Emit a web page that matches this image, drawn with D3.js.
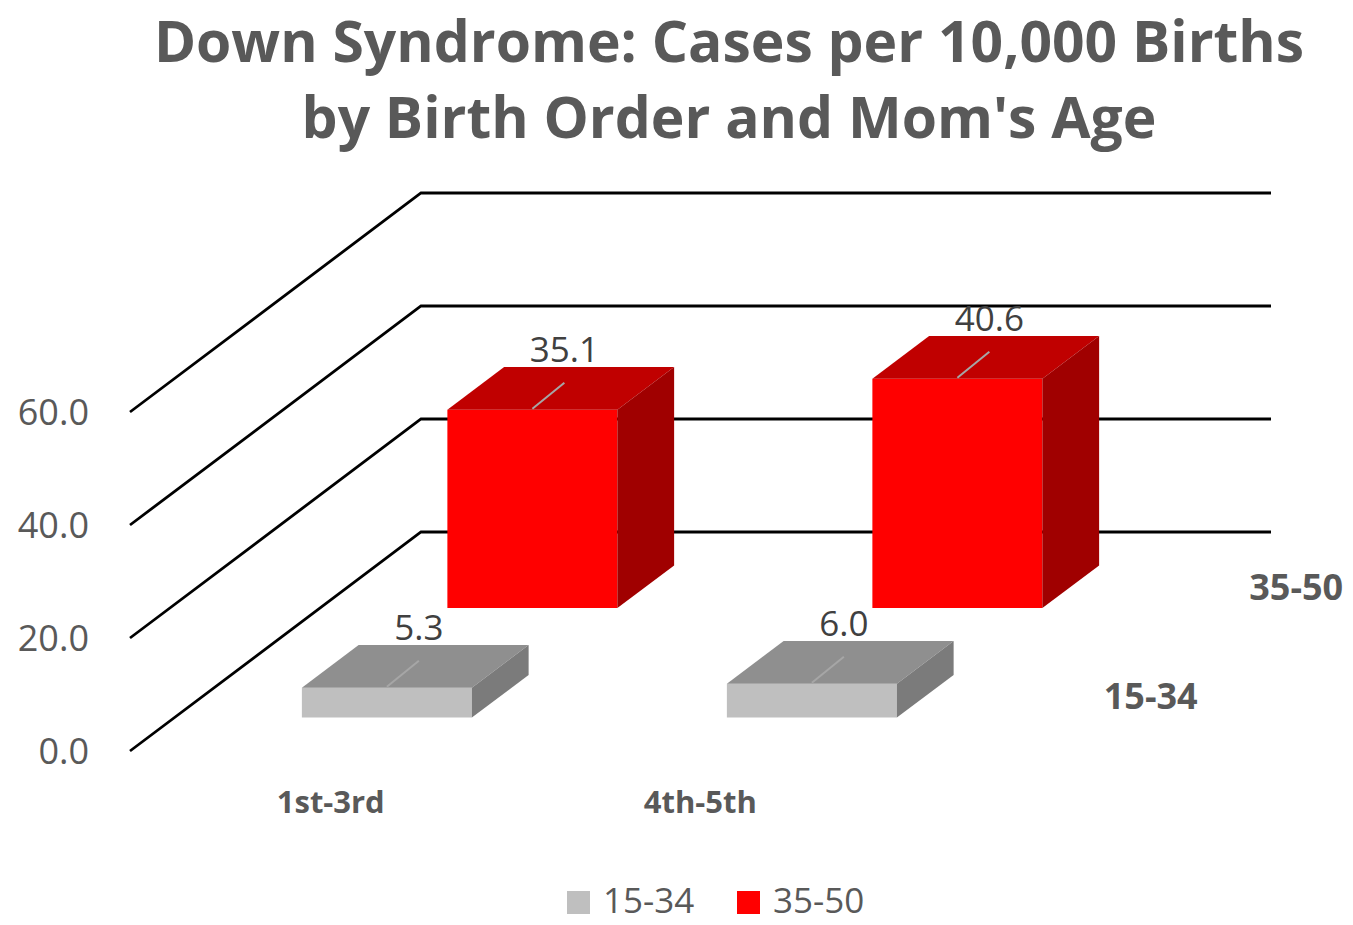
<!DOCTYPE html>
<html>
<head>
<meta charset="utf-8">
<script src="https://cdn.jsdelivr.net/npm/d3@7"></script>
<style>
  body { margin: 0; background: #fff; }
  text { font-family: "Open Sans", "DejaVu Sans", sans-serif; }
</style>
</head>
<body>
<div id="chart"></div>
<script>
// Data
const categories = ["1st-3rd", "4th-5th"];
const seriesNames = ["15-34", "35-50"];
const values1534 = [5.3, 6.0];
const values3550 = [35.1, 40.6];
const yTicks = [0, 20, 40, 60];
const titleLines = ["Down Syndrome: Cases per 10,000 Births", "by Birth Order and Mom's Age"];

const seriesValues = [values1534, values3550];
const colors = {
  "15-34": { front: "#bfbfbf", top: "#8f8f8f", side: "#7b7b7b" },
  "35-50": { front: "#ff0000", top: "#c00000", side: "#a00000" }
};

const W = 1353, H = 925;
const textColor = "#595959";

const svg = d3.select("#chart")
  .append("svg")
  .attr("width", W)
  .attr("height", H);

// Oblique 3D: depth vector for the full floor depth
const depthX = 291, depthY = -219;
const proj = (px, py, d) => [px + d * depthX, py + d * depthY];

// Scales
const x = d3.scaleBand()
  .domain(categories)
  .range([130, 980])
  .paddingInner(0.6)
  .paddingOuter(0.3);

const depth = d3.scaleBand()
  .domain(seriesNames)
  .range([0, 1])
  .paddingInner(0.61)
  .paddingOuter(0.305);

const y = d3.scaleLinear()
  .domain([0, 60])
  .range([751, 412]);

// category labels sit a little tighter than the bars
const xLabel = d3.scaleBand()
  .domain(categories)
  .range([146, 885]);

// Title
svg.append("g")
  .selectAll("text")
  .data(titleLines)
  .join("text")
  .attr("x", 729)
  .attr("y", (d, i) => 62 + i * 76)
  .attr("text-anchor", "middle")
  .attr("fill", textColor)
  .style("font-size", "57px")
  .style("font-weight", "bold")
  .text(d => d);

// Gridlines: floor-side diagonal then back wall
const x0 = x.range()[0], x1 = x.range()[1];
svg.append("g")
  .selectAll("path")
  .data(yTicks)
  .join("path")
  .attr("fill", "none")
  .attr("stroke", "#000")
  .attr("stroke-width", 2.8)
  .attr("d", v => {
    const a = proj(x0, y(v), 0);
    const b = proj(x0, y(v), 1);
    const c = proj(x1, y(v), 1);
    return d3.line()([a, b, c]);
  });

// Y tick labels
svg.append("g")
  .selectAll("text")
  .data(yTicks)
  .join("text")
  .attr("x", 89)
  .attr("y", v => y(v))
  .attr("dy", "0.36em")
  .attr("text-anchor", "end")
  .attr("fill", textColor)
  .style("font-size", "36px")
  .text(v => v.toFixed(1));

// Bars, back row first
const bars = [];
seriesNames.forEach((s, si) => {
  categories.forEach((c, ci) => {
    bars.push({ series: s, cat: c, value: seriesValues[si][ci], si });
  });
});
bars.sort((a, b) => b.si - a.si);

const barG = svg.append("g");
bars.forEach(b => {
  const dFront = depth(b.series);
  const dBack = dFront + depth.bandwidth();
  const left = x(b.cat), right = x(b.cat) + x.bandwidth();
  const top = y(b.value), bottom = y(0);
  const col = colors[b.series];

  const fl = proj(left, top, dFront), fr = proj(right, top, dFront);
  const frb = proj(right, bottom, dFront), flb = proj(left, bottom, dFront);
  const bl = proj(left, top, dBack), br = proj(right, top, dBack);
  const brb = proj(right, bottom, dBack);

  const g = barG.append("g");
  g.append("path")
    .attr("d", d3.line()([fl, fr, frb, flb]) + "Z")
    .attr("fill", col.front);
  g.append("path")
    .attr("d", d3.line()([fl, fr, br, bl]) + "Z")
    .attr("fill", col.top);
  g.append("path")
    .attr("d", d3.line()([fr, br, brb, frb]) + "Z")
    .attr("fill", col.side);

  // data label with a short leader line
  const cx = (fl[0] + fr[0]) / 2;
  const lx = cx + 32;
  g.append("line")
    .attr("x1", cx).attr("y1", fl[1] - 1)
    .attr("x2", lx).attr("y2", fl[1] - 27)
    .attr("stroke", "#a6a6a6")
    .attr("stroke-width", 2);
  g.append("text")
    .attr("x", lx)
    .attr("y", fl[1] - 48)
    .attr("text-anchor", "middle")
    .attr("fill", "#404040")
    .style("font-size", "35px")
    .text(b.value.toFixed(1));
});

// Category labels
svg.append("g")
  .selectAll("text")
  .data(categories)
  .join("text")
  .attr("x", c => xLabel(c) + xLabel.bandwidth() / 2)
  .attr("y", 813)
  .attr("text-anchor", "middle")
  .attr("fill", textColor)
  .style("font-size", "31px")
  .style("font-weight", "bold")
  .text(c => c);

// Series (depth) labels along the right floor edge
svg.append("g")
  .selectAll("text")
  .data(seriesNames)
  .join("text")
  .attr("x", s => proj(x1, y(0), depth(s) + depth.bandwidth() / 2)[0] + 51)
  .attr("y", s => proj(x1, y(0), depth(s) + depth.bandwidth() / 2)[1] + 13)
  .attr("fill", textColor)
  .style("font-size", "36px")
  .style("font-weight", "bold")
  .text(s => s);

// Legend
const legend = svg.append("g").attr("transform", "translate(567, 891)");
const legendX = [0, 170];
seriesNames.forEach((s, i) => {
  legend.append("rect")
    .attr("x", legendX[i])
    .attr("y", 0)
    .attr("width", 23)
    .attr("height", 23)
    .attr("fill", colors[s].front);
  legend.append("text")
    .attr("x", legendX[i] + 36)
    .attr("y", 22)
    .attr("fill", textColor)
    .style("font-size", "35px")
    .text(s);
});
</script>
</body>
</html>
